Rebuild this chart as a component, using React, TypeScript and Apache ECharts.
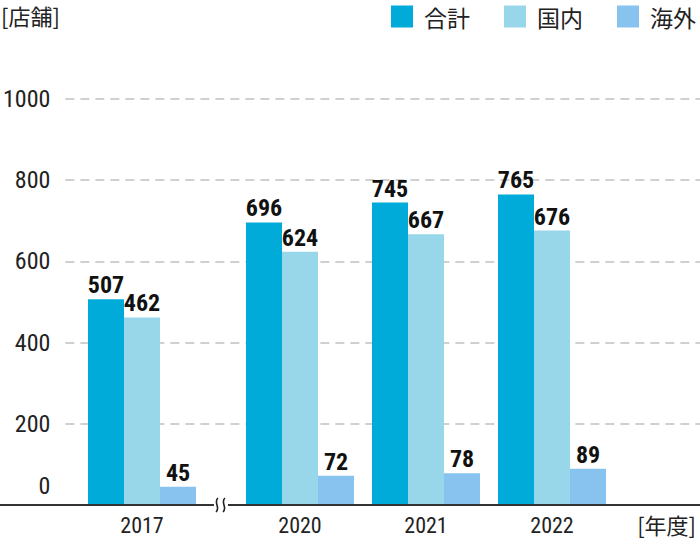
import React, { useEffect, useRef } from "react";
import * as echarts from "echarts";

const seriesNames = ["合計", "国内", "海外"];
const colors = ["#00ABDA", "#98D6EA", "#88C3EF"];
const catsA = ["2017"];
const catsB = ["2020", "2021", "2022"];
const totalA = [507];
const domesticA = [462];
const overseasA = [45];
const totalB = [696, 745, 765];
const domesticB = [624, 667, 676];
const overseasB = [72, 78, 89];
const yTicks = [0, 200, 400, 600, 800, 1000];

const NUM_FONT = "'Roboto Condensed', 'Liberation Sans Narrow', 'Arial Narrow', 'DejaVu Sans Condensed', Roboto, sans-serif";
const CJK_FONT = "'Noto Sans CJK JP', 'Noto Sans', sans-serif";

export default function App() {
  const ref = useRef<HTMLDivElement>(null);
  useEffect(() => {
    if (!ref.current) return;
    const chart = echarts.init(ref.current, null, { renderer: "svg" });
    const top = 99;
    const bottom = 35;
    const valueAxisHidden = (gridIndex: number) => ({
      type: "value",
      gridIndex,
      min: 0,
      max: 1000,
      interval: 200,
      show: false,
      splitLine: { show: false },
    });
    const label = {
      show: true,
      position: "top",
      distance: 2,
      color: "#111",
      fontFamily: NUM_FONT,
      fontWeight: "bold",
      fontSize: 24,
    };
    const mk = (name: string, color: string, data: number[], idx: number) => ({
      type: "bar",
      name,
      data,
      xAxisIndex: idx,
      yAxisIndex: idx,
      barWidth: 36,
      barGap: "0%",
      itemStyle: { color },
      label,
    });
    const xLabel = { color: "#222", fontFamily: NUM_FONT, fontSize: 22, margin: 9 };
    chart.setOption({
      animation: false,
      legend: {
        data: seriesNames,
        top: 5,
        right: 4,
        padding: 0,
        itemWidth: 22,
        itemHeight: 22,
        itemGap: 34,
        icon: "rect",
        textStyle: { fontFamily: CJK_FONT, fontSize: 23, color: "#222", padding: [0, 0, 0, 6] },
      },
      grid: [
        { left: 60, right: 0, top, bottom },
        { left: 79, width: 126, top, bottom },
        { left: 237, width: 378, top, bottom },
      ],
      xAxis: [
        { type: "category", gridIndex: 0, data: [""], show: false },
        {
          type: "category",
          gridIndex: 1,
          data: catsA,
          axisLine: { show: false },
          axisTick: { show: false },
          axisLabel: xLabel,
        },
        {
          type: "category",
          gridIndex: 2,
          data: catsB,
          axisLine: { show: false },
          axisTick: { show: false },
          axisLabel: xLabel,
        },
      ],
      yAxis: [
        {
          type: "value",
          gridIndex: 0,
          min: yTicks[0],
          max: yTicks[yTicks.length - 1],
          interval: yTicks[1] - yTicks[0],
          axisLine: { show: false },
          axisTick: { show: false },
          splitLine: { show: true, lineStyle: { type: [9, 6], color: "#D0D0D0", width: 2 } },
          axisLabel: {
            margin: 15,
            color: "#222",
            fontFamily: NUM_FONT,
            fontSize: 24,
            formatter: (v: number) => (v === 0 ? "{z|0}" : String(v)),
            rich: {
              z: { fontFamily: NUM_FONT, fontSize: 24, color: "#222", padding: [0, 0, 38, 0] },
            },
          },
        },
        valueAxisHidden(1),
        valueAxisHidden(2),
      ],
      series: [
        mk(seriesNames[0], colors[0], totalA, 1),
        mk(seriesNames[1], colors[1], domesticA, 1),
        mk(seriesNames[2], colors[2], overseasA, 1),
        mk(seriesNames[0], colors[0], totalB, 2),
        mk(seriesNames[1], colors[1], domesticB, 2),
        mk(seriesNames[2], colors[2], overseasB, 2),
      ],
      graphic: [
        { type: "line", shape: { x1: 0, y1: 505, x2: 700, y2: 505 }, style: { stroke: "#333", lineWidth: 2 }, z: 10 },
        { type: "rect", shape: { x: 214, y: 499, width: 14, height: 12 }, style: { fill: "#fff" }, z: 11 },
        { type: "bezierCurve", shape: { x1: 218, y1: 498, cpx1: 213, cpy1: 502, cpx2: 221, cpy2: 508, x2: 216, y2: 512 }, style: { stroke: "#222", lineWidth: 1.6, fill: "none" }, z: 12 },
        { type: "bezierCurve", shape: { x1: 225, y1: 498, cpx1: 220, cpy1: 502, cpx2: 228, cpy2: 508, x2: 223, y2: 512 }, style: { stroke: "#222", lineWidth: 1.6, fill: "none" }, z: 12 },
        { type: "text", left: 1, top: 3, style: { text: "[店舗]", font: `22px ${CJK_FONT}`, lineHeight: 24, fill: "#222" } },
        { type: "text", right: 4, top: 513, style: { text: "[年度]", font: `22px ${CJK_FONT}`, fill: "#222" } },
      ],
    });
    return () => chart.dispose();
  }, []);
  return <div ref={ref} style={{ position: "absolute", left: 0, top: 0, width: 700, height: 540 }} />;
}
